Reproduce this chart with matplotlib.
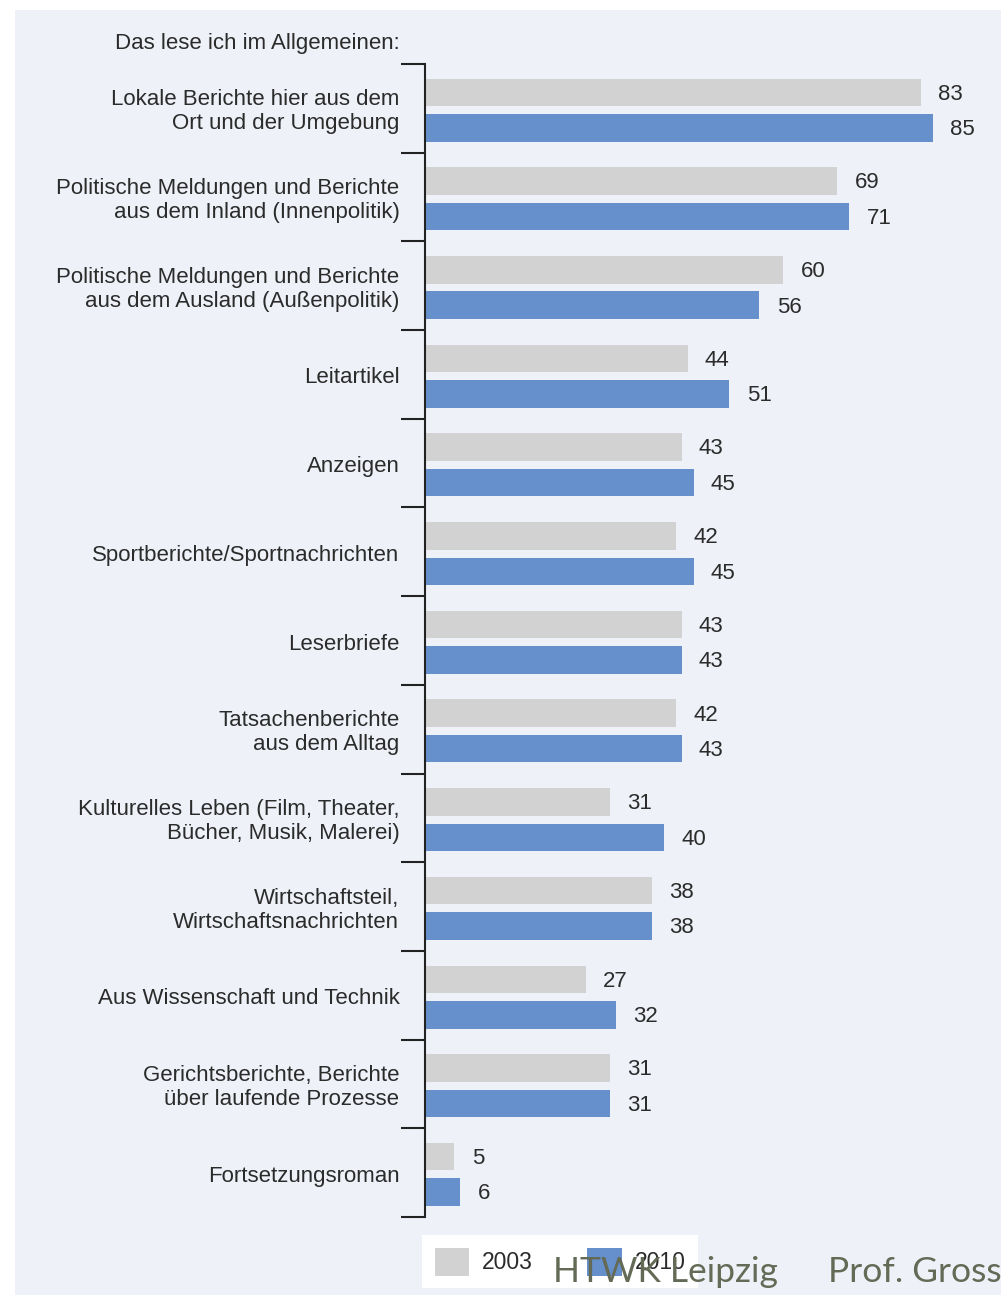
import matplotlib.pyplot as plt
import numpy as np
from matplotlib.patches import Rectangle

categories = [
    "Lokale Berichte hier aus dem\nOrt und der Umgebung",
    "Politische Meldungen und Berichte\naus dem Inland (Innenpolitik)",
    "Politische Meldungen und Berichte\naus dem Ausland (Außenpolitik)",
    "Leitartikel",
    "Anzeigen",
    "Sportberichte/Sportnachrichten",
    "Leserbriefe",
    "Tatsachenberichte\naus dem Alltag",
    "Kulturelles Leben (Film, Theater,\nBücher, Musik, Malerei)",
    "Wirtschaftsteil,\nWirtschaftsnachrichten",
    "Aus Wissenschaft und Technik",
    "Gerichtsberichte, Berichte\nüber laufende Prozesse",
    "Fortsetzungsroman",
]
values_2003 = [83, 69, 60, 44, 43, 42, 43, 42, 31, 38, 27, 31, 5]
values_2010 = [85, 71, 56, 51, 45, 45, 43, 43, 40, 38, 32, 31, 6]
years = ["2003", "2010"]

gray = "#d2d2d2"
blue = "#6690cc"
text_col = "#2b2b2b"

plt.rcParams['font.family'] = ['Liberation Sans', 'DejaVu Sans']

W, H = 1001, 1299
fig = plt.figure(figsize=(W / 100, H / 100), dpi=100)
fig.patch.set_facecolor("white")

# light panel behind the chart
fig.patches.append(Rectangle((15 / W, 1 - 1295 / H), (W - 15) / W, (1295 - 10) / H,
                             transform=fig.transFigure, facecolor="#eef1f8",
                             edgecolor="none", zorder=-1))

ax_left, ax_top, ax_bot = 424.5, 64, 1217
ax = fig.add_axes([ax_left / W, 1 - ax_bot / H, (W - ax_left) / W, (ax_bot - ax_top) / H])
ax.set_facecolor("none")
ax.set_zorder(2)

y = np.arange(len(categories))
h = 0.31
off1, off2 = -0.18, 0.22
b1 = ax.barh(y + off1, values_2003, height=h, color=gray, label=years[0])
b2 = ax.barh(y + off2, values_2010, height=h, color=blue, label=years[1])

ax.set_xlim(0, (W - ax_left) / 5.98)
ax.set_ylim(len(categories) - 0.5, -0.5)

for yi, v in zip(y, values_2003):
    ax.text(v + 2.9, yi + off1 + 0.02, str(v), va="center", ha="left", fontsize=16,
            color=text_col)
for yi, v in zip(y, values_2010):
    ax.text(v + 2.9, yi + off2 + 0.02, str(v), va="center", ha="left", fontsize=16,
            color=text_col)

for yi, lab in zip(y, categories):
    ax.text(-4.2, yi + 0.04, lab, va="center", ha="right", fontsize=16, color=text_col,
            linespacing=1.2)

ax.set_yticks(np.arange(-0.5, len(categories), 1.0))
ax.set_yticklabels([])
ax.tick_params(axis="y", length=17, width=1.5, color="#222222")
ax.set_xticks([])
for s in ["top", "right", "bottom"]:
    ax.spines[s].set_visible(False)
ax.spines["left"].set_linewidth(1.5)
ax.spines["left"].set_color("#222222")

fig.text(400 / W, 1 - 43 / H, "Das lese ich im Allgemeinen:", ha="right", va="center",
         fontsize=16, color=text_col)

leg = fig.legend(handles=[b1, b2], loc="upper left",
                 bbox_to_anchor=(422 / W, 1 - 1235 / H), ncol=2, fontsize=16.5,
                 frameon=True, fancybox=False, borderaxespad=0, borderpad=0.55,
                 handlelength=1.5, handleheight=1.5, handletextpad=0.55,
                 columnspacing=2.4, labelcolor=text_col)
leg.get_frame().set_facecolor("white")
leg.get_frame().set_edgecolor("none")
leg.get_frame().set_alpha(1)
leg.set_zorder(5)

fig.text(553 / W, 1 - 1282 / H, "HTWK Leipzig", ha="left", va="baseline",
         fontsize=25.5, color="#636a55", family=["Lato", "DejaVu Sans"], zorder=10)
fig.text(828 / W, 1 - 1282 / H, "Prof. Gross", ha="left", va="baseline",
         fontsize=25.5, color="#636a55", family=["Lato", "DejaVu Sans"], zorder=10)

fig.savefig("out.png", dpi=100)
